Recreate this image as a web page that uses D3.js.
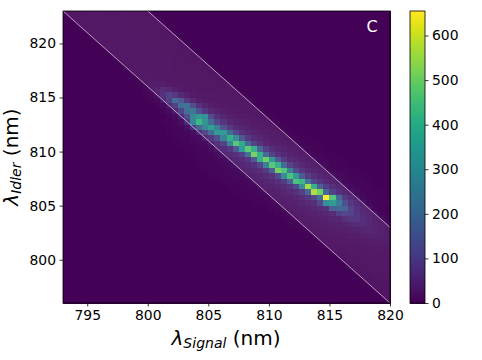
<!DOCTYPE html>
<html>
<head>
<meta charset="utf-8">
<script src="https://cdn.jsdelivr.net/npm/d3@7"></script>
<style>
body{margin:0;background:#fff;}
text{font-family:"DejaVu Sans",sans-serif;fill:#000;}
</style>
</head>
<body>
<svg id="chart" width="482" height="360"></svg>
<script>
// wavelength axes (nm), histogram bins are 0.5 nm wide
var signalDomain = [793, 820];
var idlerDomain = [796, 823];
var signalTicks = [795, 800, 805, 810, 815, 820];
var idlerTicks = [800, 805, 810, 815, 820];
var colorTicks = [0, 100, 200, 300, 400, 500, 600];
var maxCount = 655;
var binWidth = 0.5;
var outsideCount = 3;

// the shaded filter band, lower edge then upper edge as [signal, idler] end points
var lowerEdge = [[793, 823], [820, 796]];
var upperEdge = [[800, 823], [820, 803]];

// counts read per idler row from the top, first value sits 2 bins left of the lower edge
var bandRows = [
[3,3,6,6,7,7,8,7,8,7,7,8,7,6,6,6,6,3,3],
[3,3,6,7,7,8,7,8,7,8,7,7,7,6,7,6,6,3,3],
[3,3,6,7,8,7,8,8,7,7,8,7,7,7,6,6,6,3,3],
[3,3,7,7,8,8,7,8,8,7,7,7,7,6,6,6,5,3,3],
[3,3,6,7,8,8,8,7,8,8,7,7,6,7,6,6,6,3,3],
[3,3,7,8,7,8,8,8,7,7,8,7,7,6,6,6,5,3,3],
[3,3,6,8,8,8,8,8,8,7,7,7,7,7,6,5,6,3,3],
[3,3,7,7,8,8,9,8,8,8,7,7,7,6,6,6,5,3,3],
[3,3,7,8,8,9,8,8,8,8,7,8,7,6,6,5,5,3,3],
[3,3,7,8,8,8,8,8,8,7,8,7,7,7,6,6,5,3,3],
[3,3,7,8,9,9,8,8,8,8,7,7,7,6,6,5,5,3,3],
[3,4,8,9,9,9,8,8,8,7,7,7,7,6,6,5,5,3,3],
[3,4,9,10,12,10,9,8,8,7,7,7,6,6,6,6,5,3,3],
[4,5,12,16,20,18,12,10,8,7,7,6,6,6,6,6,6,4,3],
[5,8,20,30,50,40,24,14,10,8,7,6,6,6,6,6,6,4,3],
[6,12,30,60,100,70,40,24,14,10,8,8,8,6,6,6,6,4,3],
[8,16,40,90,200,150,70,36,20,14,10,8,8,8,8,6,6,4,3],
[10,18,40,90,210,220,120,60,32,20,14,12,10,8,8,8,6,4,3],
[10,20,44,100,210,230,130,70,40,26,18,14,12,10,10,8,8,5,4],
[10,20,50,120,280,330,300,120,60,36,24,18,14,12,10,10,8,6,4],
[12,24,70,280,420,320,200,104,62,40,28,22,18,14,12,10,10,6,4],
[12,24,90,180,280,350,260,134,76,48,34,26,20,16,14,12,10,7,5],
[14,22,60,110,200,340,330,200,104,60,40,30,24,18,16,14,12,8,5],
[14,20,46,74,130,270,400,300,144,78,48,34,26,22,18,14,12,9,6],
[14,18,38,56,100,280,470,380,190,96,58,38,28,24,20,16,14,10,6],
[14,18,36,46,74,150,350,480,400,180,88,52,36,28,22,18,16,12,7],
[14,18,34,40,56,94,220,510,400,200,96,58,38,30,24,20,18,12,8],
[14,18,32,38,50,74,150,400,500,330,150,78,48,34,26,22,18,14,9],
[14,16,30,36,44,60,104,260,470,400,190,96,58,40,30,24,20,16,10],
[14,16,28,34,40,52,80,170,510,460,260,116,68,46,34,26,22,16,10],
[14,16,26,30,36,46,66,114,300,450,340,156,84,54,38,30,24,18,12],
[12,14,24,28,34,40,54,84,170,450,420,220,106,64,42,32,26,20,12],
[12,14,22,26,30,38,46,68,114,300,560,400,170,88,54,38,28,20,12],
[10,14,20,24,28,34,42,56,88,180,570,500,190,90,54,36,28,20,12],
[10,12,18,22,26,30,38,48,70,110,200,655,460,190,80,50,30,16,10],
[10,12,18,20,24,28,34,42,54,110,300,330,250,130,70,44,30,14,8],
[8,12,16,20,22,26,30,36,46,60,170,190,180,100,60,40,30,12,7],
[8,10,14,18,20,24,28,32,38,44,90,110,100,70,44,34,26,10,6],
[6,10,12,16,18,22,24,28,32,38,60,70,70,50,36,28,22,8,5],
[6,8,12,14,16,18,22,24,28,30,36,44,50,40,30,24,18,7,5],
[5,6,10,12,14,16,18,20,22,26,28,32,34,30,24,20,16,6,4],
[4,6,8,10,12,14,16,16,18,20,24,26,26,24,20,16,14,5,4],
[4,5,8,8,10,12,12,14,14,16,18,20,20,18,16,14,10,4,3],
[3,4,6,8,8,10,10,10,12,12,14,14,14,14,12,10,8,3,3],
[3,3,6,6,6,8,8,10,10,12,12,12,12,12,10,10,8,3,3],
[3,3,4,4,6,6,8,8,10,10,10,12,12,10,10,8,8,3,3],
[3,3,4,4,6,6,8,8,8,10,10,10,10,10,8,8,6,3,3],
[3,3,4,4,6,6,6,8,8,8,10,10,10,8,8,8,6,3,3],
[3,3,4,4,4,6,6,8,8,8,8,8,8,8,8,6,6,3,3],
[3,3,4,4,4,6,6,6,8,8,8,8,8,8,6,6,6,3,3],
[3,3,4,4,4,4,6,6,6,8,8,8,8,6,6,6,6,3,3],
[3,3,3,4,4,4,6,6,6,6,8,8,6,6,6,6,6,3,3],
[3,3,3,4,4,4,4,6,6,6,6,6,6,6,6,6,4,3,3],
[3,3,3,4,4,4,4,4,6,6,6,6,6,6,6,4,4,3,3]
];

// faint spill outside the band, same row numbering
// belowHalo runs away from the lower edge (3, 4, 5... bins), aboveHalo from 3 bins past the upper edge
var haloFirstRow = 20;
var belowHalo = [
[8,6,5,4],[9,7,5,4],[10,8,6,4],[10,8,6,5],[11,9,7,5],[12,9,7,5],[12,10,7,5],[12,10,8,5],
[12,10,8,6],[12,10,8,6],[12,10,8,6],[11,9,7,5],[10,8,7,5],[9,8,6,5],[8,7,6,4],[7,6,5,4]
];
var aboveHalo = [
[4,3,3,3],[5,4,3,3],[5,4,4,3],[6,4,4,3],[6,5,4,3],[7,5,4,4],[7,6,5,4],[8,6,5,4],
[8,7,5,4],[9,7,6,4],[9,7,6,5],[10,8,6,5],[10,8,6,5],[9,7,6,4],[8,6,5,4],[7,6,4,4]
];

var margin = {left: 63, top: 11, width: 327, height: 292};
var barBox = {left: 410, width: 15};

var svg = d3.select("#chart");
var x = d3.scaleLinear().domain(signalDomain).range([margin.left, margin.left + margin.width]);
var y = d3.scaleLinear().domain(idlerDomain).range([margin.top + margin.height, margin.top]);
var color = d3.scaleSequential(d3.interpolateViridis).domain([0, maxCount]);
var barY = d3.scaleLinear().domain([0, maxCount]).range([margin.top + margin.height, margin.top]);

// expand the rows to one cell per bin
var cells = [];
bandRows.forEach(function(row, r){
	var below = belowHalo[r - haloFirstRow] || [];
	var above = aboveHalo[r - haloFirstRow] || [];
	for(var c = 0; c < bandRows.length; c++){
		var d = c - r;
		var value = row[d + 2];
		if(value === undefined && d < -2) value = below[-d - 3];
		if(value === undefined && d > 16) value = above[d - 17];
		cells.push({
			signal: signalDomain[0] + c * binWidth,
			idler: idlerDomain[1] - r * binWidth,
			value: value === undefined ? outsideCount : value
		});
	}
});

svg.append("g")
	.selectAll("rect")
	.data(cells)
	.enter()
	.append("rect")
	.attr("x", d => x(d.signal))
	.attr("y", d => y(d.idler))
	.attr("width", x(signalDomain[0] + binWidth) - x(signalDomain[0]) + 0.5)
	.attr("height", y(idlerDomain[1] - binWidth) - y(idlerDomain[1]) + 0.5)
	.attr("fill", d => color(d.value))
	.attr("shape-rendering", "crispEdges");

// translucent white band between the edges
var bandCorners = [lowerEdge[0], lowerEdge[1], [signalDomain[1], idlerDomain[0]], upperEdge[1], upperEdge[0]];
svg.append("path")
	.attr("d", d3.line().x(d => x(d[0])).y(d => y(d[1]))(bandCorners) + "Z")
	.attr("fill", "#fff")
	.attr("fill-opacity", 0.08)
	.attr("stroke", "none");

svg.selectAll("line.edge")
	.data([lowerEdge, upperEdge])
	.enter()
	.append("line")
	.attr("class", "edge")
	.attr("x1", d => x(d[0][0]))
	.attr("y1", d => y(d[0][1]))
	.attr("x2", d => x(d[1][0]))
	.attr("y2", d => y(d[1][1]))
	.attr("stroke", "#fff")
	.attr("stroke-opacity", 0.75)
	.attr("stroke-width", 0.8);

svg.append("text")
	.attr("x", 372)
	.attr("y", 32)
	.attr("text-anchor", "middle")
	.style("font-size", "16px")
	.style("fill", "#fff")
	.text("C");

function styleAxis(g){
	g.selectAll("text").style("font-size", "13.9px").attr("fill", "#000");
	g.selectAll("line").attr("stroke", "#000").attr("stroke-width", 0.8);
	g.selectAll("path").remove();
}

svg.append("g")
	.attr("transform", "translate(0," + (margin.top + margin.height) + ")")
	.call(d3.axisBottom(x).tickValues(signalTicks).tickSize(3.5).tickPadding(3.5).tickFormat(d3.format("d")))
	.call(styleAxis);

svg.append("g")
	.attr("transform", "translate(" + margin.left + ",0)")
	.call(d3.axisLeft(y).tickValues(idlerTicks).tickSize(3.5).tickPadding(3.5).tickFormat(d3.format("d")))
	.call(styleAxis);

svg.append("rect")
	.attr("x", margin.left)
	.attr("y", margin.top)
	.attr("width", margin.width)
	.attr("height", margin.height)
	.attr("fill", "none")
	.attr("stroke", "#000")
	.attr("stroke-width", 0.8);

// colorbar
svg.append("g")
	.selectAll("rect")
	.data(d3.range(0, maxCount, 2.5))
	.enter()
	.append("rect")
	.attr("x", barBox.left)
	.attr("y", d => barY(d + 2.5))
	.attr("width", barBox.width)
	.attr("height", barY(0) - barY(2.5) + 0.5)
	.attr("fill", d => color(d))
	.attr("shape-rendering", "crispEdges");

svg.append("rect")
	.attr("x", barBox.left)
	.attr("y", margin.top)
	.attr("width", barBox.width)
	.attr("height", margin.height)
	.attr("fill", "none")
	.attr("stroke", "#000")
	.attr("stroke-width", 0.8);

svg.append("g")
	.attr("transform", "translate(" + (barBox.left + barBox.width) + ",0)")
	.call(d3.axisRight(barY).tickValues(colorTicks).tickSize(3.5).tickPadding(3.5).tickFormat(d3.format("d")))
	.call(styleAxis);

function addLabel(g, sub){
	var t = g.append("text").attr("text-anchor", "middle").style("font-size", "20px");
	t.append("tspan").style("font-style", "italic").text("\u03bb");
	t.append("tspan").attr("dy", 3).style("font-style", "italic").style("font-size", "14px").text(sub);
	t.append("tspan").attr("dy", -3).text(" (nm)");
}

addLabel(svg.append("g").attr("transform", "translate(226,345)"), "Signal");
addLabel(svg.append("g").attr("transform", "translate(18,157) rotate(-90)"), "Idler");
</script>
</body>
</html>
